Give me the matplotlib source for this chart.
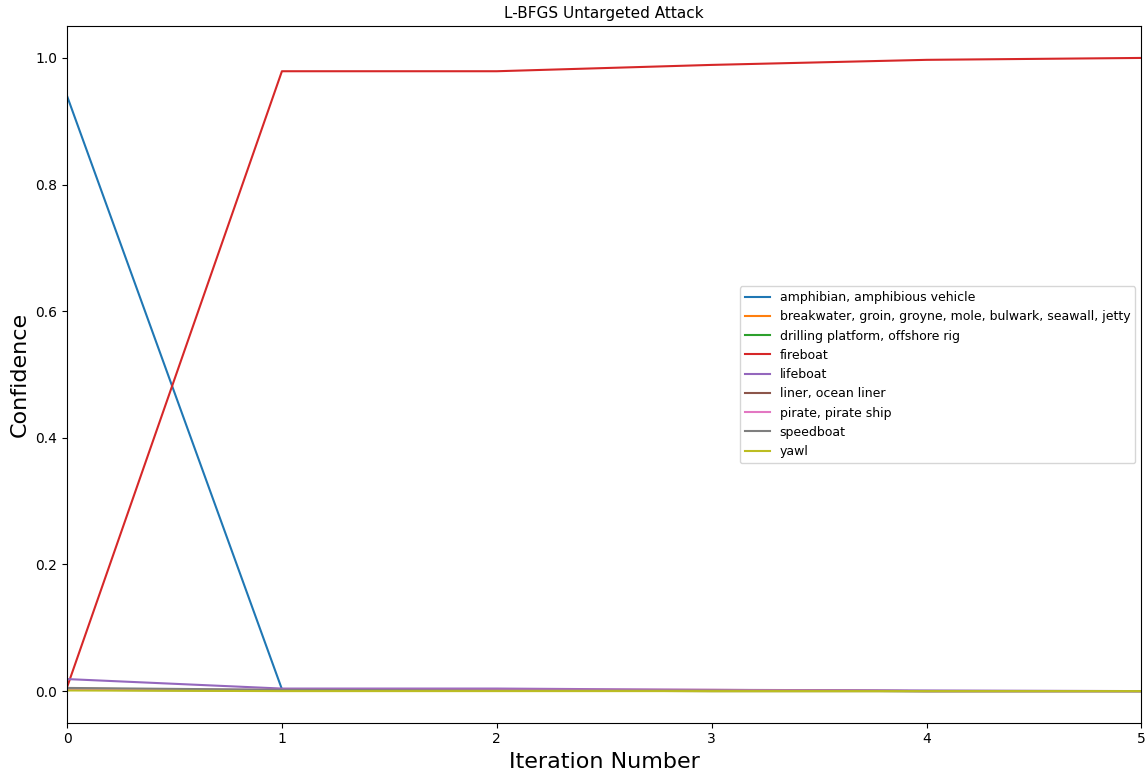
# Confidence per class over L-BFGS iterations.

import matplotlib
matplotlib.use('Agg')
import matplotlib.pyplot as plt

iterations = [0, 1, 2, 3, 4, 5]

labels = ['amphibian, amphibious vehicle',
          'breakwater, groin, groyne, mole, bulwark, seawall, jetty',
          'drilling platform, offshore rig',
          'fireboat',
          'lifeboat',
          'liner, ocean liner',
          'pirate, pirate ship',
          'speedboat',
          'yawl']

amphibian = [0.940, 0.003, 0.001, 0.001, 0.000, 0.000]
breakwater = [0.004, 0.001, 0.001, 0.000, 0.000, 0.000]
drilling = [0.002, 0.001, 0.001, 0.000, 0.000, 0.000]
fireboat = [0.006, 0.979, 0.979, 0.989, 0.997, 1.000]
lifeboat = [0.019, 0.004, 0.004, 0.002, 0.001, 0.000]
liner = [0.002, 0.001, 0.001, 0.001, 0.000, 0.000]
pirate = [0.003, 0.002, 0.002, 0.002, 0.000, 0.000]
speedboat = [0.005, 0.002, 0.001, 0.001, 0.000, 0.000]
yawl = [0.001, 0.000, 0.000, 0.000, 0.000, 0.000]

series = [amphibian, breakwater, drilling, fireboat, lifeboat,
          liner, pirate, speedboat, yawl]

fig = plt.figure(figsize=(11.46, 7.73), dpi=100)
ax = fig.add_axes([0.0585, 0.065, 0.9375, 0.901])

for values, name in zip(series, labels):
    ax.plot(iterations, values, label=name)

ax.set_xlim(0, 5)
ax.set_title('L-BFGS Untargeted Attack', fontsize=11)
ax.set_xlabel('Iteration Number', fontsize=16)
ax.set_ylabel('Confidence', fontsize=16)
ax.legend(loc='center right', fontsize=9)

fig.savefig('out.png', dpi=100)
